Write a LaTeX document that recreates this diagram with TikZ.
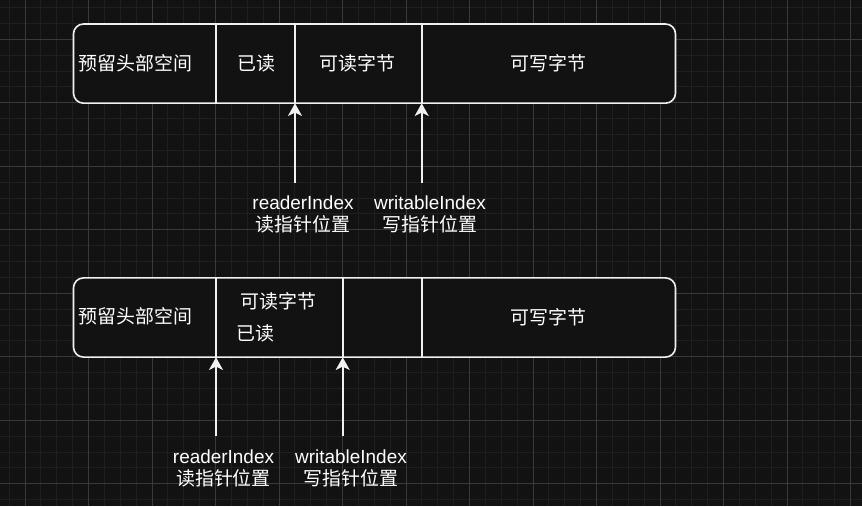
\documentclass[tikz,border=0pt]{standalone}
\usepackage{fontspec}
\setmainfont{Liberation Sans}
\newfontfamily\cjk{Noto Sans CJK SC}
\usepackage{xcolor}
\usepackage{tikz}
\usetikzlibrary{positioning,arrows.meta}

\definecolor{bgdark}{HTML}{121212}
\definecolor{gridminor}{HTML}{1F1F1F}
\definecolor{gridmajor}{HTML}{3A3A3A}
\definecolor{edge}{HTML}{F0F0F0}

\begin{document}
\begin{tikzpicture}[
    x=0.75pt, y=-0.75pt,
    >={Stealth[length=9.5pt, width=10.5pt, inset=2.5pt]},
    buf/.style={rectangle, draw=edge, line width=1.2pt, rounded corners=7.5pt, fill=bgdark, minimum width=451.5pt, minimum height=59.4pt, inner sep=0pt},
    sep/.style={draw=edge, line width=1.2pt},
    cell/.style={text=white, inner sep=0pt, font=\cjk\fontsize{14.2}{17}\selectfont},
    idx/.style={text=white, inner sep=0pt, align=center, font=\fontsize{14.2}{16.5}\selectfont},
    ptr/.style={->, draw=edge, line width=1.2pt}
]
\useasboundingbox (0,0) rectangle (862,506);

% Background grid
\fill[bgdark] (0,0) rectangle (862,506);
\foreach \k in {-1,...,53} {
    \draw[gridminor, line width=0.75pt] (25+15.875*\k,0) -- (25+15.875*\k,506);
}
\foreach \k in {-2,...,29} {
    \draw[gridminor, line width=0.75pt] (0,39.3+15.875*\k) -- (862,39.3+15.875*\k);
}
\foreach \k in {0,...,13} {
    \draw[gridmajor, line width=0.75pt] (25+63.5*\k,0) -- (25+63.5*\k,506);
}
\foreach \k in {0,...,7} {
    \draw[gridmajor, line width=0.75pt] (0,39.3+63.5*\k) -- (862,39.3+63.5*\k);
}

% Buffer before read
\node[buf] (bufA) at (374.5,63.6) {};
\coordinate (hdA) at (215.7,103.3);
\coordinate (rdA) at (295,103.3);
\coordinate (wrA) at (421.7,103.3);
\draw[sep] (hdA) -- (hdA |- bufA.north);
\draw[sep] (rdA) -- (rdA |- bufA.north);
\draw[sep] (wrA) -- (wrA |- bufA.north);

\node[cell] (headA) at (135.5,63) {预留头部空间};
\node[cell] (doneA) at (256,63) {已读};
\node[cell] (readA) at (357.5,63) {可读字节};
\node[cell] (freeA) at (548.7,63) {可写字节};

% Pointers
\coordinate (rdAfoot) at (295,182.7);
\coordinate (wrAfoot) at (421.7,182.7);
\draw[ptr] (rdAfoot) -- (rdA);
\draw[ptr] (wrAfoot) -- (wrA);
\node[idx] (rdAlbl) at (303,214) {readerIndex\\{\cjk 读指针位置}};
\node[idx] (wrAlbl) at (430,214) {writableIndex\\{\cjk 写指针位置}};

% Buffer after read
\node[buf] (bufB) at (374.5,317.5) {};
\coordinate (rdB) at (216,357.3);
\coordinate (wrB) at (342.7,357.3);
\coordinate (edB) at (421.7,357.3);
\draw[sep] (rdB) -- (rdB |- bufB.north);
\draw[sep] (wrB) -- (wrB |- bufB.north);
\draw[sep] (edB) -- (edB |- bufB.north);

\node[cell] (headB) at (135.3,316.7) {预留头部空间};
\node[cell] (readB) at (278.3,301.7) {可读字节};
\node[cell] (doneB) at (255.7,333.3) {已读};
\node[cell] (freeB) at (548.7,317) {可写字节};

% Pointers
\coordinate (rdBfoot) at (216,436);
\coordinate (wrBfoot) at (342.7,436);
\draw[ptr] (rdBfoot) -- (rdB);
\draw[ptr] (wrBfoot) -- (wrB);
\node[idx] (rdBlbl) at (223.5,468) {readerIndex\\{\cjk 读指针位置}};
\node[idx] (wrBlbl) at (351,468) {writableIndex\\{\cjk 写指针位置}};
\end{tikzpicture}
\end{document}
